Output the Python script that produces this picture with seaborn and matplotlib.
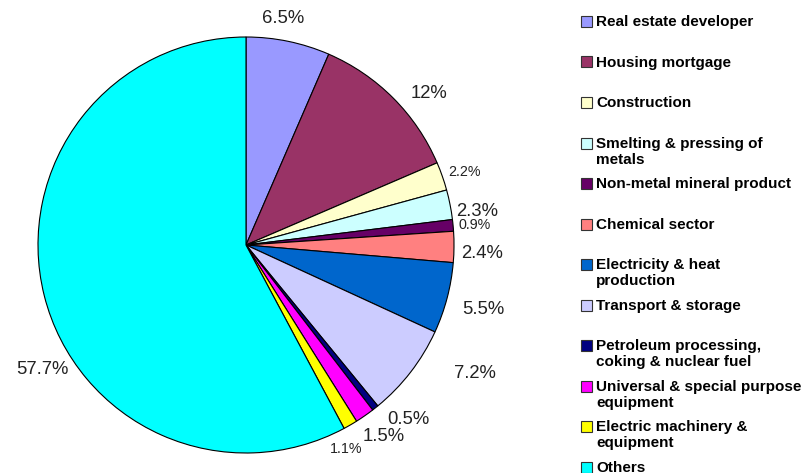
import numpy as np
import matplotlib
matplotlib.use('Agg')
import matplotlib.pyplot as plt
import seaborn as sns
from matplotlib.patches import Rectangle

sectors = ['Real estate developer', 'Housing mortgage', 'Construction',
           'Smelting & pressing of\nmetals', 'Non-metal mineral product',
           'Chemical sector', 'Electricity & heat\nproduction', 'Transport & storage',
           'Petroleum processing,\ncoking & nuclear fuel',
           'Universal & special purpose\nequipment', 'Electric machinery &\nequipment',
           'Others']
shares = [6.5, 12, 2.2, 2.3, 0.9, 2.4, 5.5, 7.2, 0.5, 1.5, 1.1, 57.7]
pct_labels = ['6.5%', '12%', '2.2%', '2.3%', '0.9%', '2.4%', '5.5%', '7.2%',
              '0.5%', '1.5%', '1.1%', '57.7%']
hex_colors = ['#9999FF', '#993366', '#FFFFCC', '#CCFFFF', '#660066', '#FF8080',
              '#0066CC', '#CCCCFF', '#000080', '#FF00FF', '#FFFF00', '#00FFFF']

sns.set_theme(style='white')
plt.rcParams['font.family'] = ['Liberation Sans', 'DejaVu Sans']
palette = sns.color_palette(hex_colors)

W, H = 806, 473
fig = plt.figure(figsize=(W / 100, H / 100), dpi=100)

# pie axes: centre ~ (246, 245) px, radius ~208 px
cx, cy, r = 246, 245, 208
ax = fig.add_axes([(cx - r) / W, (H - cy - r) / H, 2 * r / W, 2 * r / H])
wedges, texts = ax.pie(shares, colors=palette, startangle=90, counterclock=False,
                       labels=pct_labels, labeldistance=1.12,
                       wedgeprops=dict(edgecolor='black', linewidth=0.8),
                       textprops=dict(fontsize=13.3, color='#222222'))
ax.set_xlim(-1, 1)
ax.set_ylim(-1, 1)
ax.set_aspect('equal')

small = {'2.2%', '0.9%', '1.1%'}
for t in texts:
    t.set_ha('center')
    t.set_va('center')
    t.set_clip_on(False)
    t.set_zorder(5)
    if t.get_text() in small:
        t.set_fontsize(10.3)

# label spots as Excel laid them out
moved = {'6.5%': (0.18, 1.09), '12%': (0.88, 0.73),
         '2.2%': (1.05, 0.35), '2.3%': (1.11, 0.163), '0.9%': (1.10, 0.096),
         '2.4%': (1.135, -0.04), '5.5%': (1.14, -0.31), '7.2%': (1.10, -0.62),
         '0.5%': (0.78, -0.84), '1.5%': (0.66, -0.92), '1.1%': (0.48, -0.98),
         '57.7%': (-0.98, -0.60)}
for t in texts:
    if t.get_text() in moved:
        t.set_position(moved[t.get_text()])

# legend drawn by hand in pixel space
lax = fig.add_axes([0, 0, 1, 1])
lax.set_xlim(0, W)
lax.set_ylim(H, 0)
lax.axis('off')
for i, (name, col) in enumerate(zip(sectors, palette)):
    y = 21.5 + 40.5 * i
    lax.add_patch(Rectangle((581, y - 5.5), 11, 11, facecolor=col,
                            edgecolor='#333333', linewidth=0.8))
    lax.text(596, y - 6.5, name, ha='left', va='top', fontsize=11,
             fontweight='bold', color='black', linespacing=1.2)

fig.savefig('out.png', dpi=100)
